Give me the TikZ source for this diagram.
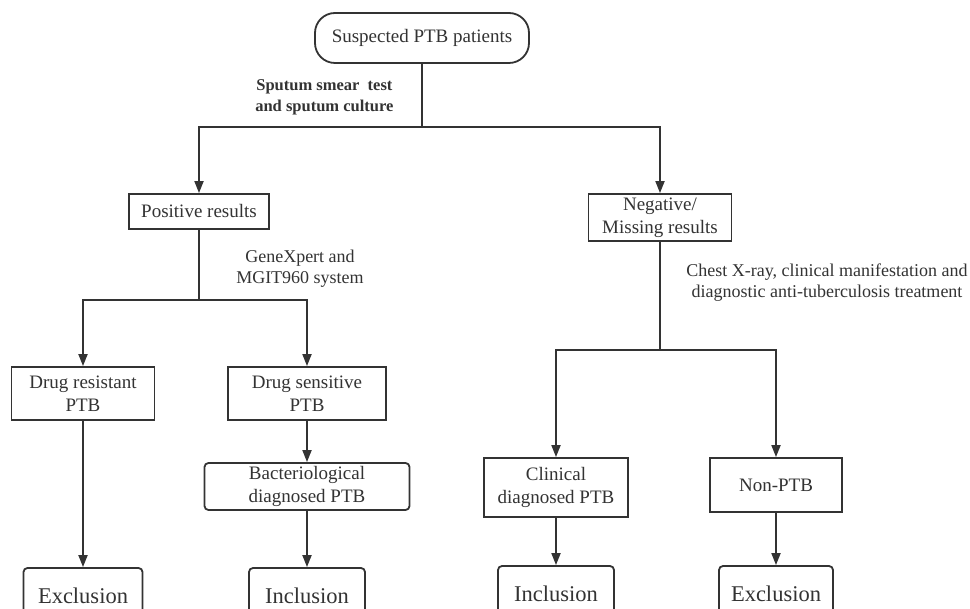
\documentclass[tikz,border=0pt]{standalone}
\usepackage{fontspec}
\setmainfont{Liberation Serif}
\usetikzlibrary{arrows.meta,positioning}
\definecolor{ink}{HTML}{333333}
\tikzset{
  box/.style={draw=ink, line width=1.8pt, text=ink, align=center, inner sep=2pt, font=\fontsize{19}{23}\selectfont},
  rbox/.style={box, rounded corners=4pt},
  endbox/.style={rbox, font=\fontsize{22.5}{26}\selectfont},
  conn/.style={draw=ink, line width=1.8pt},
  arr/.style={conn, -{Triangle[length=12pt,width=9pt]}},
  lbl/.style={text=ink, align=center, font=\fontsize{18}{21}\selectfont},
}
\begin{document}
\begin{tikzpicture}[x=1pt,y=-1pt]
\useasboundingbox (0,0) rectangle (970,609);
\clip (0,0) rectangle (970,609);
\fill[white] (0,0) rectangle (970,609);
% nodes
\node[box, rounded corners=20pt, minimum width=214pt, minimum height=50pt] (top) at (422,38) {Suspected PTB patients};
\node[box, minimum width=140pt, minimum height=35pt] (pos) at (199,211.5) {Positive results};
\node[box, minimum width=143pt, minimum height=47pt] (neg) at (660,217.5) {Negative/\\Missing results};
\node[box, minimum width=143pt, minimum height=53pt] (dr) at (83,393.5) {Drug resistant\\PTB};
\node[box, minimum width=158pt, minimum height=53pt] (ds) at (307,393.5) {Drug sensitive\\PTB};
\node[rbox, minimum width=205pt, minimum height=47pt] (bac) at (307,486.5) {Bacteriological\\diagnosed PTB};
\node[box, minimum width=144pt, minimum height=59pt] (cli) at (556,487.5) {Clinical\\diagnosed PTB};
\node[box, minimum width=132pt, minimum height=54pt] (non) at (776,485) {Non-PTB};
\node[endbox, minimum width=119pt, minimum height=56pt] (ex1) at (83,596) {Exclusion};
\node[endbox, minimum width=116pt, minimum height=56pt] (in1) at (307,596) {Inclusion};
\node[endbox, minimum width=116pt, minimum height=56pt] (in2) at (556,594) {Inclusion};
\node[endbox, minimum width=114pt, minimum height=56pt] (ex2) at (776,594) {Exclusion};
% labels
\node[lbl, font=\bfseries\fontsize{16.5}{21}\selectfont, anchor=east] (l1) at (397,97) {Sputum smear~~test\\and sputum culture};
\node[lbl] (l2) at (300,269) {GeneXpert and\\MGIT960 system};
\node[lbl] (l3) at (827,283) {Chest X-ray, clinical manifestation and\\diagnostic anti-tuberculosis treatment};
% junctions
\coordinate (j1) at (422,127);
\coordinate (j2) at (199,300);
\coordinate (j3) at (660,350);
% connectors
\draw[conn] (top) -- (j1);
\draw[arr] (j1) -| (pos);
\draw[arr] (j1) -| (neg);
\draw[conn] (pos) -- (j2);
\draw[arr] (j2) -| (dr);
\draw[arr] (j2) -| (ds);
\draw[conn] (neg) -- (j3);
\draw[arr] (j3) -| (cli);
\draw[arr] (j3) -| (non);
\draw[arr] (ds) -- (bac);
\draw[arr] (dr) -- (ex1);
\draw[arr] (bac) -- (in1);
\draw[arr] (cli) -- (in2);
\draw[arr] (non) -- (ex2);
\end{tikzpicture}
\end{document}
